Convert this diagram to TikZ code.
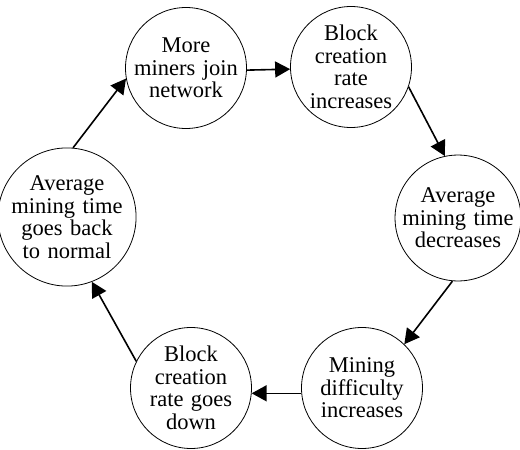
\documentclass[tikz,border=0pt]{standalone}
\usepackage{fontspec}
\setmainfont{Liberation Serif}
\usetikzlibrary{arrows.meta}
\newcommand\stagefont{\fontsize{22.5}{22.5}\selectfont\spaceskip=0.33em plus 0.1em\relax}
\begin{document}
\begin{tikzpicture}[x=1pt,y=-1pt,
  stage/.style={circle, draw, line width=0.8pt, minimum size=121pt, inner sep=0pt,
    align=center, font=\stagefont},
  flow/.style={line width=1.6pt, -{Triangle[length=15pt,width=16pt]}}]
\useasboundingbox (0,0) rectangle (520,450);
\node[stage] (miners)   at (186,68)  {More\\miners join\\network};
\node[stage] (rateup)   at (351,67)  {Block\\creation\\rate\\increases};
\node[stage] (timedown) at (458,218) {Average\\mining time\\decreases};
\node[stage] (diff)     at (362,388) {Mining\\difficulty\\increases};
\node[stage] (ratedown) at (191,388) {Block\\creation\\rate goes\\down};
\node[stage] (normal)   at (67,217)  {Average\\mining time\\goes back\\to normal};
\draw[flow] (miners.-2) -- (rateup.182);
\draw[flow] (rateup.-19) -- (timedown.102);
\draw[flow] (timedown.-95) -- (diff.46);
\draw[flow] (diff.185) -- (ratedown.-5);
\draw[flow] (ratedown.154) -- (normal.-69);
\draw[flow] (normal.85) -- (miners.190);
\end{tikzpicture}
\end{document}
